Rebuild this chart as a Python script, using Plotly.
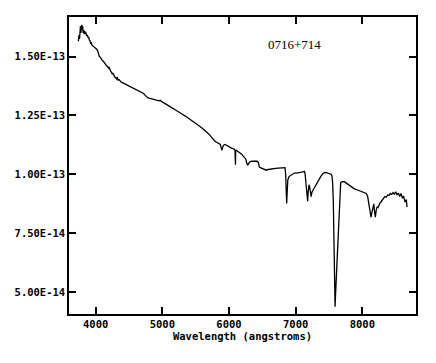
import plotly.graph_objects as go

# Wavelength (angstroms)
wavelength = [
    3740, 3750, 3758, 3765, 3772, 3778, 3785, 3792, 3798, 3805, 3812, 3820, 3828, 3836, 3845,
    3855, 3865, 3875, 3885, 3895, 3905, 3915, 3925, 3935, 3945, 3960, 3975, 3990, 4005, 4020,
    4035, 4045, 4055, 4070, 4085, 4100, 4115, 4130, 4145, 4160, 4175, 4190, 4200, 4210, 4225,
    4240, 4250, 4260, 4270, 4285, 4300, 4315, 4325, 4335, 4350, 4365, 4380, 4400, 4420, 4440,
    4460, 4480, 4500, 4520, 4540, 4560, 4580, 4600, 4620, 4640, 4660, 4680, 4700, 4720, 4740,
    4760, 4780, 4800, 4830, 4860, 4890, 4920, 4950, 4970, 4985, 5000, 5030, 5060, 5100, 5140,
    5180, 5220, 5260, 5300, 5340, 5380, 5420, 5460, 5500, 5540, 5580, 5620, 5660, 5700, 5730,
    5760, 5790, 5820, 5850, 5870, 5885, 5895, 5905, 5920, 5940, 5960, 5980, 6000, 6030, 6060,
    6085, 6090, 6093, 6097, 6100, 6110, 6130, 6160, 6190, 6220, 6250, 6265, 6280, 6295, 6310,
    6340, 6380, 6420, 6440, 6455, 6470, 6500, 6530, 6560, 6590, 6620, 6660, 6700, 6740, 6780,
    6820, 6840, 6850, 6858, 6865, 6872, 6882, 6900, 6925, 6950, 6980, 7010, 7050, 7080, 7110,
    7130, 7140, 7155, 7170, 7180, 7188, 7200, 7210, 7222, 7232, 7245, 7265, 7290, 7320, 7350,
    7380, 7410, 7440, 7470, 7500, 7530, 7545, 7555, 7565, 7575, 7583, 7591, 7600, 7615, 7630,
    7645, 7660, 7675, 7700, 7730, 7760, 7790, 7820, 7850, 7880, 7910, 7940, 7970, 8000, 8030,
    8060, 8080, 8100, 8115, 8130, 8145, 8160, 8172, 8182, 8195, 8210, 8222, 8235, 8250, 8265,
    8280, 8300, 8320, 8340, 8360, 8380, 8400, 8420, 8440, 8460, 8480, 8500, 8520, 8540, 8560,
    8580, 8600, 8620, 8640, 8660, 8670,
]

# Flux, in units of 1E-13
flux_e13 = [
    1.565, 1.590, 1.575, 1.615, 1.630, 1.600, 1.625, 1.635, 1.615, 1.628, 1.600, 1.612, 1.595, 1.608, 1.598,
    1.600, 1.588, 1.592, 1.580, 1.583, 1.570, 1.568, 1.556, 1.558, 1.548, 1.545, 1.540, 1.538, 1.536, 1.530,
    1.520, 1.505, 1.500, 1.497, 1.488, 1.483, 1.480, 1.472, 1.468, 1.462, 1.458, 1.452, 1.456, 1.445, 1.438,
    1.432, 1.425, 1.430, 1.420, 1.414, 1.410, 1.405, 1.412, 1.400, 1.402, 1.396, 1.392, 1.389, 1.386, 1.383,
    1.380, 1.377, 1.375, 1.372, 1.370, 1.366, 1.363, 1.361, 1.358, 1.356, 1.352, 1.350, 1.347, 1.343, 1.336,
    1.328, 1.325, 1.323, 1.321, 1.318, 1.316, 1.314, 1.312, 1.314, 1.309, 1.306, 1.302, 1.296, 1.290, 1.283,
    1.276, 1.270, 1.263, 1.255, 1.248, 1.240, 1.235, 1.226, 1.218, 1.208, 1.200, 1.190, 1.181, 1.170, 1.160,
    1.150, 1.140, 1.135, 1.132, 1.127, 1.110, 1.102, 1.115, 1.123, 1.126, 1.122, 1.120, 1.117, 1.112, 1.108,
    1.105, 1.100, 1.040, 1.040, 1.100, 1.102, 1.098, 1.090, 1.085, 1.075, 1.065, 1.050, 1.038, 1.045, 1.052,
    1.055, 1.056, 1.055, 1.050, 1.030, 1.028, 1.024, 1.018, 1.017, 1.020, 1.022, 1.023, 1.025, 1.026, 1.028,
    1.030, 1.028, 1.000, 0.930, 0.876, 0.920, 0.975, 0.990, 0.995, 1.002, 1.005, 1.005, 1.006, 1.008, 1.010,
    1.012, 1.005, 0.960, 0.900, 0.885, 0.925, 0.955, 0.945, 0.920, 0.905, 0.925, 0.935, 0.945, 0.965, 0.980,
    0.992, 1.003, 1.008, 1.006, 1.004, 1.000, 0.993, 0.960, 0.880, 0.720, 0.600, 0.437, 0.500, 0.600, 0.700,
    0.820, 0.940, 0.965, 0.968, 0.968, 0.962, 0.956, 0.948, 0.942, 0.938, 0.935, 0.932, 0.928, 0.925, 0.922,
    0.918, 0.905, 0.870, 0.835, 0.818, 0.840, 0.872, 0.874, 0.845, 0.817, 0.850, 0.862, 0.858, 0.870, 0.878,
    0.882, 0.892, 0.898, 0.905, 0.903, 0.912, 0.910, 0.918, 0.914, 0.922, 0.915, 0.925, 0.912, 0.920, 0.905,
    0.918, 0.900, 0.905, 0.882, 0.892, 0.860, 0.850,
]

y_tickvals = [0.50, 0.75, 1.00, 1.25, 1.50]
y_ticktext = ["5.00E-14", "7.50E-14", "1.00E-13", "1.25E-13", "1.50E-13"]
x_tickvals = [4000, 5000, 6000, 7000, 8000]
x_ticktext = ["4000", "5000", "6000", "7000", "8000"]

tick_font = dict(family="DejaVu Sans Mono", size=10.5, color="black", weight="bold")

fig = go.Figure()
fig.add_trace(go.Scatter(
    x=wavelength, y=flux_e13, mode="lines",
    line=dict(color="black", width=1.3), showlegend=False,
))

fig.update_xaxes(
    range=[3600, 8805], tickvals=x_tickvals, ticktext=x_ticktext,
    showline=True, linecolor="black", linewidth=1.5, mirror="ticks",
    ticks="inside", ticklen=7, tickwidth=1.5, tickcolor="black",
    showgrid=False, zeroline=False, tickfont=tick_font,
    title=dict(text="Wavelength (angstroms)", font=tick_font, standoff=0),
)
fig.update_yaxes(
    range=[0.406, 1.668], tickvals=y_tickvals, ticktext=y_ticktext,
    showline=True, linecolor="black", linewidth=1.5, mirror="ticks",
    ticks="inside", ticklen=7, tickwidth=1.5, tickcolor="black",
    showgrid=False, zeroline=False, tickfont=tick_font,
)

fig.add_annotation(
    x=6982, y=1.55, text="0716+714", showarrow=False,
    font=dict(family="Liberation Serif", size=13, color="black"),
)

# page body adds an offset, so the figure is sized to compensate
fig.update_layout(
    width=426, height=355,
    margin=dict(l=57, r=18, t=7, b=49),
    paper_bgcolor="white", plot_bgcolor="white",
)

fig.write_html("out.html")
